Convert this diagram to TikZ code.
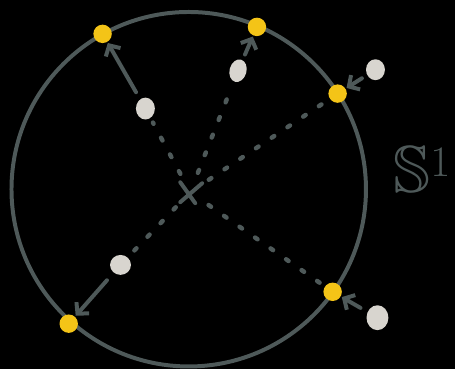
\documentclass[tikz,border=0pt]{standalone}
\usepackage{amssymb}
\usepackage{tikz}
\usetikzlibrary{positioning,arrows.meta,shapes.geometric}
\definecolor{slateLine}{HTML}{4E5959}
\definecolor{sunYellow}{HTML}{F4C417}
\definecolor{pebble}{HTML}{D8D5CF}

\begin{document}
\begin{tikzpicture}[
    x=0.02cm, y=-0.02cm,
    pointDot/.style={circle, fill=sunYellow, inner sep=0pt, minimum size=0.37cm},
    pebbleBlob/.style={ellipse, fill=pebble, inner sep=0pt, minimum width=0.38cm, minimum height=0.44cm},
    dottedRay/.style={draw=slateLine, line width=0.09cm, line cap=round, dash pattern=on 0.06cm off 0.32cm},
    pushArrow/.style={draw=slateLine, line width=0.08cm, line cap=round, -{Straight Barb[length=0.16cm, width=0.34cm, line width=0.08cm]}}
]
    \fill[black] (0,0) rectangle (457,371);

    % the circle
    \draw[slateLine, line width=0.08cm] (189.5,190) circle[radius=3.56cm];

    % centre
    \coordinate (origin) at (191,193);
    \draw[slateLine, line width=0.08cm, line cap=round] (181,183) -- (196,204) (203,184) -- (181,203);

    % points on the circle
    \node[pointDot] (ptA) at (103,34) {};
    \node[pointDot] (ptB) at (258,27) {};
    \node[pointDot] (ptC) at (339,94) {};
    \node[pointDot] (ptD) at (334,293) {};
    \node[pointDot] (ptE) at (69,325) {};

    % samples
    \node[pebbleBlob] (smA) at (146,109) {};
    \node[pebbleBlob, rotate=-15, minimum width=0.34cm, minimum height=0.46cm] (smB) at (239,71) {};
    \node[pebbleBlob, minimum height=0.42cm] (smC) at (377,70) {};
    \node[pebbleBlob, minimum width=0.44cm, minimum height=0.5cm] (smD) at (379,319) {};
    \node[pebbleBlob, minimum width=0.42cm, minimum height=0.4cm] (smE) at (121,266) {};

    % rays from the centre
    \draw[dottedRay, shorten <=0.42cm, shorten >=0.1cm] (origin) -- (smA);
    \draw[dottedRay, shorten <=0.42cm, shorten >=0.2cm] (origin) -- (smB);
    \draw[dottedRay, shorten <=0.45cm, shorten >=0.12cm] (origin) -- (ptC);
    \draw[dottedRay, shorten <=0.45cm, shorten >=0.12cm] (origin) -- (ptD);
    \draw[dottedRay, shorten <=0.42cm, shorten >=0.14cm] (origin) -- (smE);

    % projections
    \draw[pushArrow, shorten <=0.16cm, shorten >=0.02cm] (smA) -- (ptA);
    \draw[pushArrow, shorten <=0.12cm, shorten >=0.02cm] (smB) -- (ptB);
    \draw[pushArrow, shorten <=0.12cm, shorten >=0.02cm] (smC) -- (ptC);
    \draw[pushArrow, shorten <=0.16cm, shorten >=0.02cm] (smD) -- (ptD);
    \draw[pushArrow, shorten <=0.2cm, shorten >=0.02cm] (smE) -- (ptE);

    \node[text=slateLine, font=\fontsize{38}{38}\selectfont] (sphereLbl) at (424,170) {$\mathbb{S}^1$};
\end{tikzpicture}
\end{document}
